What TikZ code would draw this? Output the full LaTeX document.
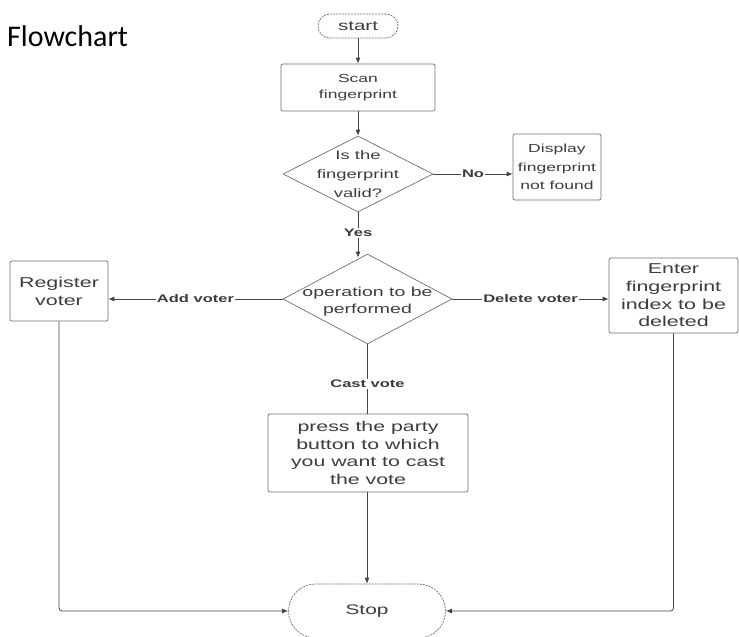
\documentclass[tikz,border=0pt]{standalone}
\usepackage{fontspec}
\setmainfont{Liberation Sans}
\newfontfamily\dfont[FakeStretch=1.5]{Liberation Sans}
\newfontfamily\hfont{Carlito}
\usetikzlibrary{shapes.geometric,arrows.meta,calc}
\definecolor{txtc}{HTML}{3C3C3C}
\definecolor{edgec}{HTML}{6E6E6E}
\definecolor{linec}{HTML}{444444}
\begin{document}
\begin{tikzpicture}[x=1pt,y=-1pt,
  box/.style={draw=edgec, line width=0.7pt, rounded corners=2pt, inner sep=0pt, text=txtc, align=center},
  term/.style={draw=edgec, line width=0.7pt, dash pattern=on 2pt off 1pt, inner sep=0pt, text=txtc},
  dia/.style={diamond, draw=edgec, line width=0.7pt, inner sep=0pt},
  diatext/.style={text=txtc, align=center, inner sep=0pt},
  conn/.style={draw=linec, line width=0.8pt},
  arr/.style={conn, -{Latex[length=6pt,width=5pt]}},
  lab/.style={fill=white, inner sep=1pt, text=txtc, font=\dfont\bfseries\fontsize{11}{13}\selectfont},
  big/.style={font=\dfont\fontsize{14.2}{17.6}\selectfont},
]
\useasboundingbox (0,0) rectangle (739,637);

\node[anchor=base west, inner sep=0pt, font=\hfont\fontsize{30}{36}\selectfont] (title) at (7,46) {Flowchart};

\node[term, rounded corners=12pt, minimum width=80, minimum height=24, font=\dfont\fontsize{13.7}{16}\selectfont] (start) at (358,26) {start};

\node[box, minimum width=154, minimum height=47, font=\dfont\fontsize{11.7}{16}\selectfont] (scan) at (358,87.5) {Scan\\fingerprint};

\node[dia, minimum width=150, minimum height=76,
  label={[diatext, font=\dfont\fontsize{12.3}{19}\selectfont]center:{Is the\\fingerprint\\valid?}}] (valid) at (358,174) {};

\node[box, minimum width=88, minimum height=66, font=\dfont\fontsize{11.7}{18.5}\selectfont] (disp) at (557,167) {Display\\fingerprint\\not found};

\node[dia, minimum width=169, minimum height=90,
  label={[diatext, yshift=-3pt, font=\dfont\fontsize{13}{17}\selectfont]center:{operation to be\\performed}}] (op) at (367.5,299) {};

\node[box, big, minimum width=98, minimum height=60, font=\dfont\fontsize{14.3}{18}\selectfont] (reg) at (59,291) {Register\\voter};

\node[box, minimum width=129, minimum height=75, font=\dfont\fontsize{14.3}{17.7}\selectfont] (enter) at (673.5,295.5) {Enter\\fingerprint\\index to be\\deleted};

\node[box, big, minimum width=200, minimum height=78] (press) at (368,453) {press the party\\button to which\\you want to cast\\the vote};

\node[term, rounded corners=27pt, minimum width=157, minimum height=54, font=\dfont\fontsize{13.9}{16}\selectfont] (stop) at (367,611) {Stop};

\draw[arr] (start) -- (scan);
\draw[arr] (scan) -- (valid);
\draw[arr] (valid.east) -- node[lab]{No} (valid.east -| disp.west);
\draw[arr] (valid.south) -- node[lab, pos=0.45]{Yes} ($(valid.south |- op.north)+(0,4)$);
\draw[arr] (op.west) -- node[lab]{Add voter} (op.west -| reg.east);
\draw[arr] (op.east) -- node[lab]{Delete voter} (op.east -| enter.west);
\draw[conn] (op.south) -- node[lab, pos=0.57]{Cast vote} (op.south |- press.north);
\draw[arr] (press.south -| stop.north) -- (stop.north);
\draw[arr, rounded corners=3pt] (reg.south) |- (stop.west);
\draw[arr, rounded corners=3pt] (enter.south) |- (stop.east);
\end{tikzpicture}
\end{document}
